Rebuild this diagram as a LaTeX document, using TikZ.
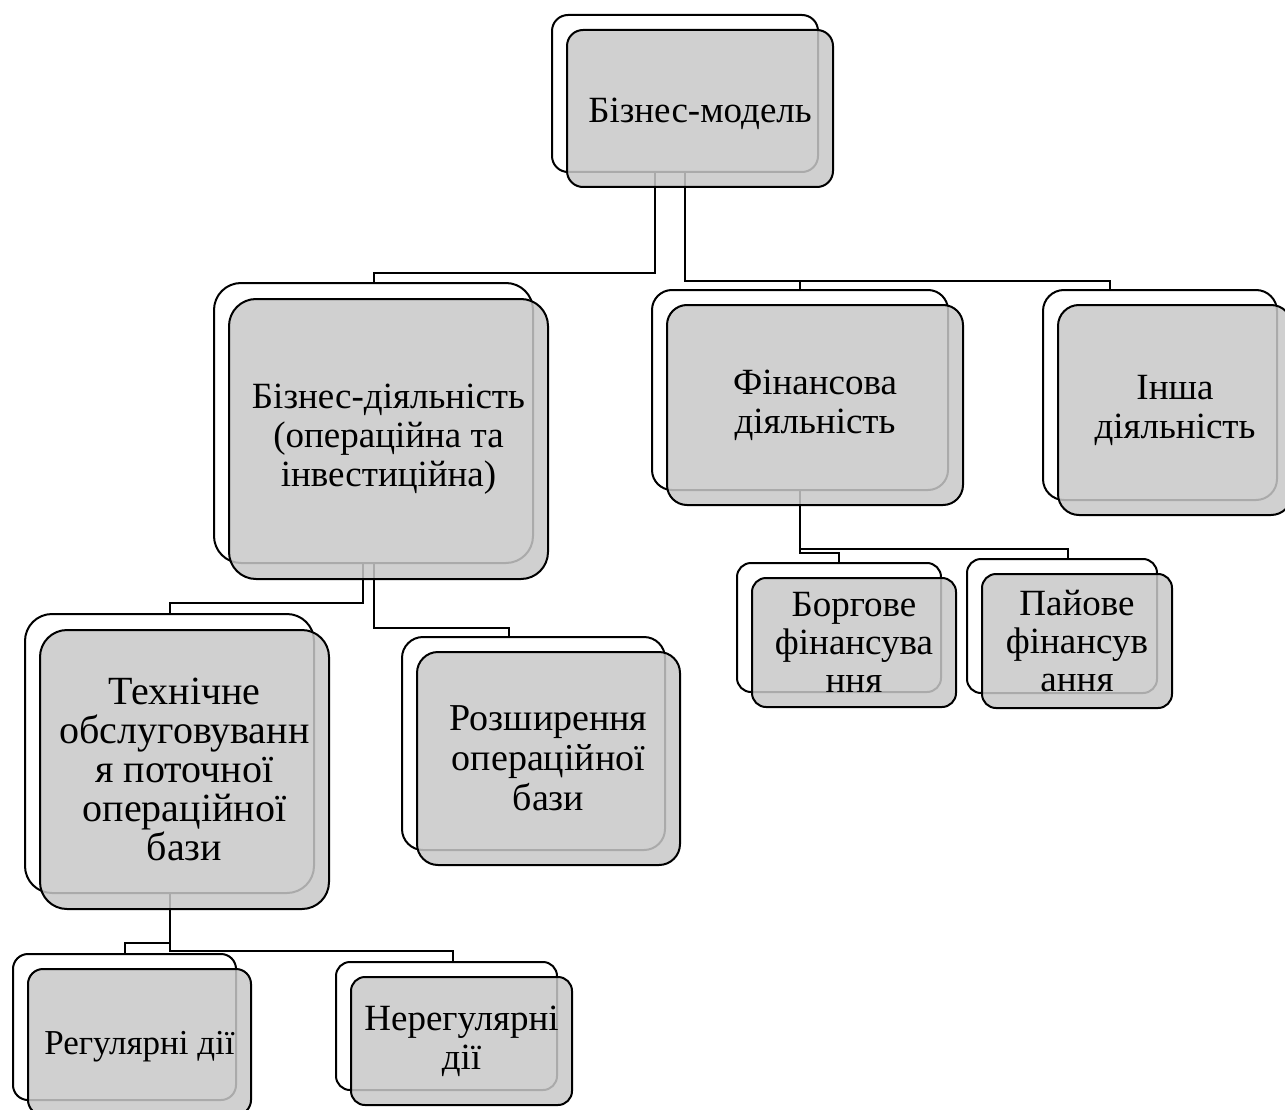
\documentclass[tikz,border=0pt]{standalone}
\usepackage{fontspec}
\setmainfont{Liberation Serif}
\usetikzlibrary{calc}
\definecolor{boxgray}{RGB}{200,200,200}
\tikzset{
  backbox/.style={draw=black, line width=2pt, fill=white, inner sep=0pt},
  frontbox/.style={draw=black, line width=2pt, fill=boxgray, fill opacity=0.85, draw opacity=1, text opacity=1,
    inner sep=0pt, align=center, font=\fontsize{37}{39}\selectfont,
    execute at begin node={\rule{0pt}{0.95em}}},
  conn/.style={draw=black, line width=2pt}
}
\begin{document}
\begin{tikzpicture}[x=1pt,y=-1pt]
\useasboundingbox (0,0) rectangle (1285,1110);
\clip (0,0) rectangle (1285,1110);
% back boxes
\node[backbox, minimum width=266pt, minimum height=157pt, rounded corners=16pt] (bm) at (685,93.5) {};
\node[backbox, minimum width=319pt, minimum height=280pt, rounded corners=27pt] (bd) at (373.5,423) {};
\node[backbox, minimum width=296pt, minimum height=200pt, rounded corners=20pt] (fd) at (800,390) {};
\node[backbox, minimum width=234pt, minimum height=210pt, rounded corners=21pt] (id) at (1160,395) {};
\node[backbox, minimum width=289pt, minimum height=279pt, rounded corners=27pt] (to) at (169.5,753.5) {};
\node[backbox, minimum width=263pt, minimum height=213pt, rounded corners=21pt] (ro) at (533.5,743.5) {};
\node[backbox, minimum width=204pt, minimum height=129pt, rounded corners=14pt] (bf) at (839,627.5) {};
\node[backbox, minimum width=190pt, minimum height=134pt, rounded corners=14pt] (pf) at (1062,626) {};
\node[backbox, minimum width=223pt, minimum height=146pt, rounded corners=15pt] (rd) at (124.5,1027) {};
\node[backbox, minimum width=221pt, minimum height=128pt, rounded corners=14pt] (nd) at (446.5,1026) {};
% connectors
\draw[conn] ([xshift=-30pt]bm.south) -- ++(0,100) -| (bd.north);
\draw[conn] (bm.south) -- ++(0,108) -| (fd.north);
\draw[conn] (bm.south) -- ++(0,108) -| ([xshift=-50pt]id.north);
\draw[conn] ([xshift=-10.5pt]bd.south) -- ++(0,39) -| (to.north);
\draw[conn] (bd.south) -- ++(0,64) -| ([xshift=-24.5pt]ro.north);
\draw[conn] (fd.south) -- ++(0,62) -| (bf.north);
\draw[conn] (fd.south) -- ++(0,58) -| ([xshift=6pt]pf.north);
\draw[conn] (to.south) -- ++(0,49) -| (rd.north);
\draw[conn] (to.south) -- ++(0,57) -| ([xshift=6.5pt]nd.north);
% front boxes
\node[frontbox, minimum width=266pt, minimum height=157pt, rounded corners=16pt] (bmf) at ($(bm)+(15,15)$) {Бізнес-модель};
\node[frontbox, minimum width=319pt, minimum height=280pt, rounded corners=27pt] (bdf) at ($(bd)+(15,16)$) {Бізнес-діяльність\\(операційна та\\інвестиційна)};
\node[frontbox, minimum width=296pt, minimum height=200pt, rounded corners=20pt] (fdf) at ($(fd)+(15,15)$) {Фінансова\\діяльність};
\node[frontbox, minimum width=234pt, minimum height=210pt, rounded corners=21pt] (idf) at ($(id)+(15,15)$) {Інша\\діяльність};
\node[frontbox, minimum width=289pt, minimum height=279pt, rounded corners=27pt, font=\fontsize{40}{39}\selectfont] (tof) at ($(to)+(15,16)$) {Технічне\\обслуговуванн\\я поточної\\операційної\\бази};
\node[frontbox, minimum width=263pt, minimum height=213pt, rounded corners=21pt, font=\fontsize{38}{40}\selectfont] (rof) at ($(ro)+(15,15)$) {Розширення\\операційної\\бази};
\node[frontbox, minimum width=204pt, minimum height=129pt, rounded corners=14pt, font=\fontsize{37}{38}\selectfont] (bff) at ($(bf)+(15,15)$) {Боргове\\фінансува\\ння};
\node[frontbox, minimum width=190pt, minimum height=134pt, rounded corners=14pt, font=\fontsize{37}{38}\selectfont] (pff) at ($(pf)+(15,15)$) {Пайове\\фінансув\\ання};
\node[frontbox, minimum width=223pt, minimum height=146pt, rounded corners=15pt, font=\fontsize{35}{38}\selectfont] (rdf) at ($(rd)+(15,15)$) {Регулярні дії};
\node[frontbox, minimum width=221pt, minimum height=128pt, rounded corners=14pt] (ndf) at ($(nd)+(15,15)$) {Нерегулярні\\дії};
\end{tikzpicture}
\end{document}
